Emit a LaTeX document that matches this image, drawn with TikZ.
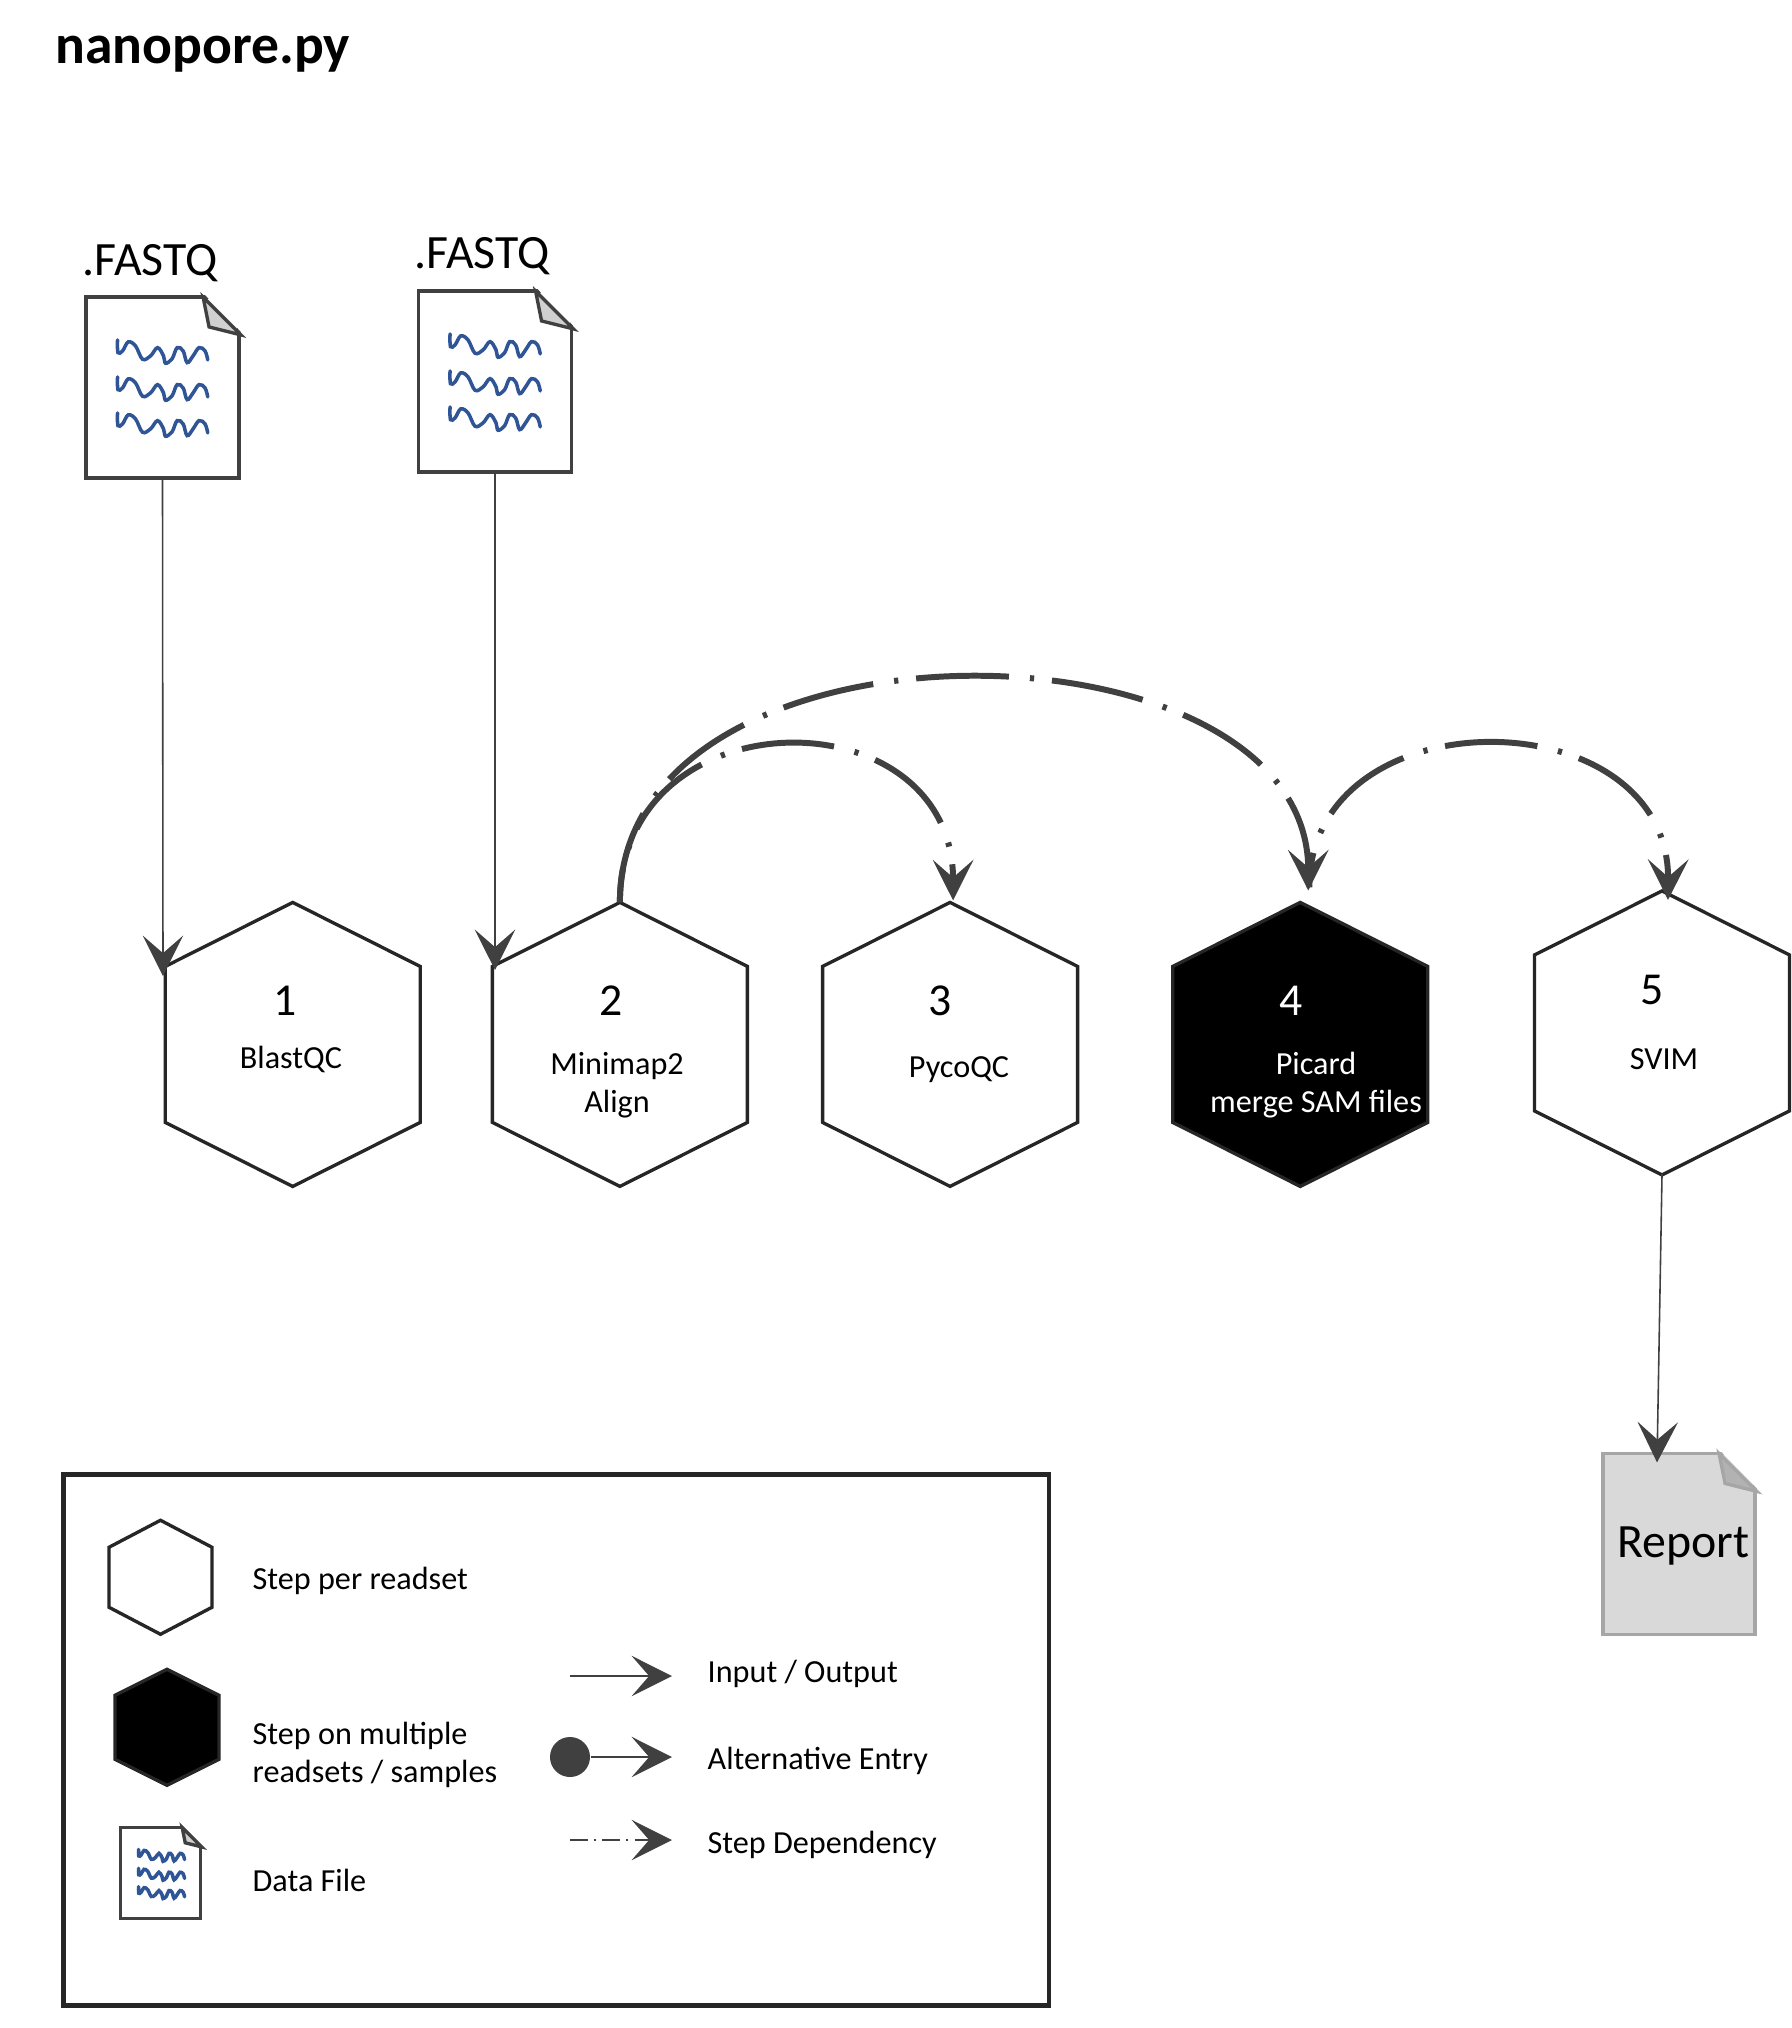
\documentclass[tikz,border=0pt]{standalone}
\usepackage{fontspec}
\setmainfont{Carlito}
\usetikzlibrary{arrows.meta, positioning}
\definecolor{linegray}{HTML}{404040}
\definecolor{hexgray}{HTML}{262626}
\definecolor{foldgray}{HTML}{D0D0D0}
\definecolor{wavyblue}{HTML}{2F5597}
\tikzset{>={Stealth[length=11.5pt,width=11.5pt,inset=5pt]},
  hexmain/.style={minimum width=2.55cm,minimum height=2.83cm,inner sep=0pt,outer sep=0pt},
  hexline/.style={draw=hexgray,line width=.95pt,line join=miter,fill=white},
  hexmulti/.style={hexline,fill=black},
  docbox/.style={draw=linegray,line width=.95pt,fill=white,inner sep=0pt,outer sep=0pt,
    minimum width=1.53cm,minimum height=1.81cm},
  flow/.style={->,color=linegray,line width=.45pt},
  dep/.style={->,color=linegray,line width=1.7pt,dash pattern=on 26.4pt off 6pt on 1.2pt off 5.1pt},
  label/.style={font=\fontsize{9.15}{10.7}\selectfont,inner sep=0pt,align=center},
  num/.style={font=\fontsize{13}{15}\selectfont,inner sep=0pt},
  big/.style={font=\fontsize{13.6}{15}\selectfont,inner sep=0pt}}

% outline of a step: name, half width, shoulder, side
\newcommand{\hexoutline}[5]{
\draw[#5] (#1.north) -- ++(#2,#3) -- ++(0,#4) -- ++(-#2,#3) -- ++(-#2,-#3) -- ++(0,-#4) -- cycle;
}
\newcommand{\wavyline}[1]{
\draw[wavyblue,line width=1pt,line cap=round,shift={(-121.5,#1)}] plot[smooth,tension=.6] coordinates
{(0,0) (0.4,12.7) (5,11) (10.7,2) (18,6) (25,19.3) (33,16) (40,7.7) (46,16) (48,23.3)
(54.6,18.7) (59.6,7.7) (65.6,11) (69.6,22.7) (75.5,16) (81.5,7.7) (87.5,11) (90.2,20)};
}
% dog ear of a file: name, scale, colours
\newcommand{\docfold}[4]{
\begin{scope}[shift={(#1.north east)},x=#2*0.01cm,y=-#2*0.01cm]
\fill[white] (-36,-4) -- (5,-4) -- (5,38) -- cycle;
\draw[draw=#3,fill=#4,line width=.95pt,line join=miter] (-36,0) -- (-30,30) -- (2,38) -- cycle;
\end{scope}
}
\newcommand{\docwaves}[2]{
\begin{scope}[shift={(#1.north east)},x=#2*0.01cm,y=-#2*0.01cm]
\wavyline{43}
\wavyline{80}
\wavyline{116}
\end{scope}
}

\begin{document}
\begin{tikzpicture}[x=0.01cm,y=-0.01cm]
\useasboundingbox (0,0) rectangle (1792,2028);
\node[font=\fontsize{15.8}{18}\selectfont\bfseries,inner sep=0pt,anchor=base west] (title) at (55,64) {nanopore.py};

% input files
\node[big,anchor=base west] (fastqa) at (82,276) {.FASTQ};
\node[big,anchor=base west] (fastqb) at (414,269) {.FASTQ};
\node[docbox] (doca) at (162.5,387.5) {};
\node[docbox] (docb) at (495,381.5) {};
\docfold{doca}{1}{linegray}{foldgray}
\docfold{docb}{1}{linegray}{foldgray}
\docwaves{doca}{1}
\docwaves{docb}{1}

% steps
\node[hexmain] (stepa) at (292.7,1044) {};
\node[hexmain, right of=stepa, node distance=3.27cm] (stepb) {};
\node[hexmain, right of=stepb, node distance=3.30cm] (stepc) {};
\node[hexmain, right of=stepc, node distance=3.50cm] (stepd) {};
\node[hexmain] (stepe) at (1662,1032.5) {};
\hexoutline{stepa}{127.5}{64}{156}{hexline}
\hexoutline{stepb}{127.5}{64}{156}{hexline}
\hexoutline{stepc}{127.5}{64}{156}{hexline}
\hexoutline{stepd}{127.5}{64}{156}{hexmulti}
\hexoutline{stepe}{127.5}{64}{156}{hexline}

\node[num] (numa) at (285,1001) {1};
\node[num] (numb) at (611,1001) {2};
\node[num] (numc) at (940,1001) {3};
\node[num,white] (numd) at (1291,1001) {4};
\node[num] (nume) at (1652,990) {5};
\node[label,anchor=base] (namea) at (291,1068) {BlastQC};
\node[label] (nameb) at (617,1085) {Minimap2\\Align};
\node[label,anchor=base] (namec) at (959,1077) {PycoQC};
\node[label,white] (named) at (1316,1085) {Picard\\merge SAM files};
\node[label,anchor=base] (namee) at (1664,1069) {SVIM};

% report
\node[docbox,minimum width=1.52cm,draw=black!35,fill=black!15,big,text height=10pt] (report) at (1679,1544) {\hspace*{.09cm}Report};
\docfold{report}{1}{black!35}{black!30}

% connectors
\coordinate (stepain) at (163,976);
\coordinate (stepbin) at (495,970);
\draw[flow] (doca.south) -- (stepain);
\draw[flow] (docb.south) -- (stepbin);
\draw[flow] (stepe.south) -- ([shift={(-22,9)}]report.north);
\draw[dep] (stepb.north) .. controls +(0,-301) and (1308,610) .. ([shift={(8,-12)}]stepd.north);
\draw[dep,dash phase=17pt] (stepb.north) .. controls +(0,-209) and (953,693) .. ([shift={(3,-2)}]stepc.north);
\draw[dep,dash phase=16.5pt] ([shift={(9,-15)}]stepd.north) .. controls +(0,-194) and (1669,696) .. ([shift={(6,9)}]stepe.north);

% legend
\node[draw=hexgray,line width=1.3pt,inner sep=0pt,outer sep=0pt,minimum width=9.85cm,minimum height=5.31cm] (legend) at (556,1740) {};
\node[inner sep=0pt,minimum width=1.03cm,minimum height=1.14cm] (keystep) at (160.5,1578) {};
\node[inner sep=0pt,minimum width=1.04cm,minimum height=1.16cm] (keymulti) at (167,1728) {};
\hexoutline{keystep}{51.5}{27}{60}{hexline}
\hexoutline{keymulti}{52}{26}{64}{hexmulti}
\node[docbox,minimum width=.80cm,minimum height=.91cm] (keydoc) at (160.5,1873) {};
\docfold{keydoc}{.51}{linegray}{foldgray}
\docwaves{keydoc}{.51}
\node[label,anchor=base west] (keystepname) at (252,1589) {Step per readset};
\node[label,anchor=west,align=left] (keymultiname) at (252,1755) {Step on multiple\\readsets / samples};
\node[label,anchor=base west] (keydocname) at (252,1891) {Data File};

\coordinate (ioa) at (570,1676);
\coordinate (iob) at (672,1676);
\node[circle,fill=linegray,inner sep=0pt,minimum size=.4cm] (altdot) at (570,1757) {};
\coordinate (altb) at (672,1757);
\coordinate (depa) at (570,1840);
\coordinate (depb) at (672,1840);
\draw[flow] (ioa) -- (iob);
\draw[flow] (altdot) -- (altb);
\draw[flow,dash pattern=on 5pt off 1.8pt on .6pt off 1.8pt] (depa) -- (depb);
\node[label,anchor=base west] (ioname) at (707,1682) {Input / Output};
\node[label,anchor=base west] (altname) at (707,1769) {Alternative Entry};
\node[label,anchor=base west] (depname) at (707,1853) {Step Dependency};
\end{tikzpicture}
\end{document}
